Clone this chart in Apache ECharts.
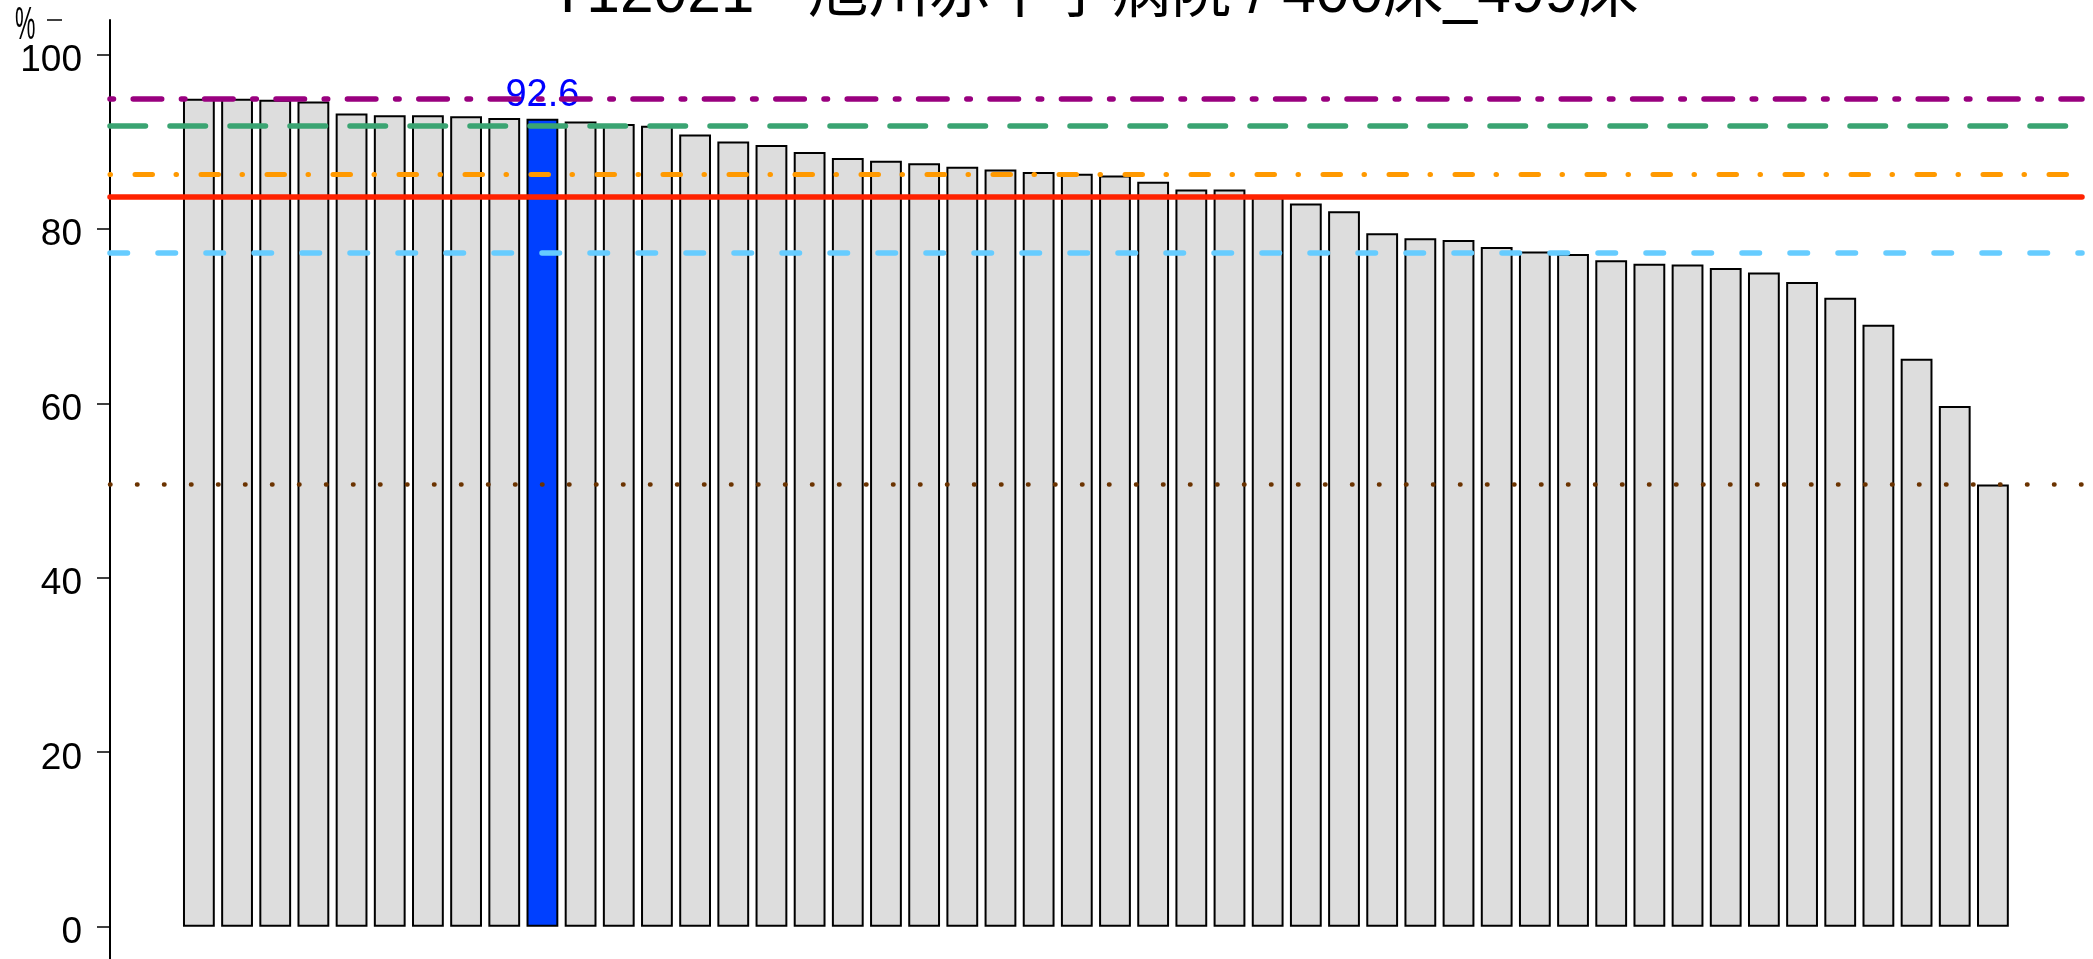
<!DOCTYPE html>
<html><head><meta charset="utf-8">
<script src="https://cdn.jsdelivr.net/npm/echarts@6/dist/echarts.min.js"></script>
<style>html,body{margin:0;padding:0;background:#fff}#c{width:2093px;height:959px}</style>
</head><body><div id="c"></div>
<script>
const titleText = 'T12021 - 旭川赤十字病院 / 400床_499床';
const categories = Array.from({length: 48}, (_, i) => 'H' + String(i + 1).padStart(2, '0'));
const values = [94.9, 94.9, 94.8, 94.6, 93.2, 93.0, 93.0, 92.9, 92.7, 92.6,
  92.3, 92.0, 91.8, 90.8, 90.0, 89.6, 88.8, 88.1, 87.8, 87.5,
  87.1, 86.8, 86.5, 86.3, 86.1, 85.4, 84.5, 84.5, 83.6, 82.9,
  82.0, 79.5, 78.9, 78.7, 77.9, 77.4, 77.1, 76.4, 76.0, 75.9,
  75.5, 75.0, 73.9, 72.1, 69.0, 65.1, 59.7, 50.7];
const highlightIndex = 9;
const yTickValues = [0, 20, 40, 60, 80, 100];
const refLines = [
  {name: 'max',  value: 94.9, color: '#99007f', width: 5.5, dash: [3.5, 19.7, 28.5, 19.7]},
  {name: 'p90',  value: 91.8, color: '#3aa472', width: 5.5, dash: [35.5, 24.5]},
  {name: 'p75',  value: 86.2, color: '#ff9900', width: 5,   dash: [0.5, 24.5, 17.5, 23.5]},
  {name: 'mean', value: 83.7, color: '#ff2200', width: 5.5, dash: 'solid'},
  {name: 'p25',  value: 77.3, color: '#66ccff', width: 5.5, dash: [17.5, 30.5]},
  {name: 'min',  value: 50.7, color: '#6b3300', width: 4.5, dash: [0.5, 26.5]}
];
const yMin = -3.70, yMax = 103.93;
const labelShift = 0.745; // tick labels sit slightly below their ticks
const font = "'Liberation Sans', Arial, 'Noto Sans CJK JP', sans-serif";

const chart = echarts.init(document.getElementById('c'), null, {renderer: 'canvas'});
const barData = values.map((v, i) => i === highlightIndex ? {
  value: v,
  itemStyle: {color: '#0040ff'},
  label: {show: true, position: 'top', distance: 4, color: '#0000ff', fontSize: 38,
    fontFamily: font, formatter: p => p.value.toFixed(1)}
} : v);

chart.setOption({
  animation: false,
  backgroundColor: '#ffffff',
  graphic: [
    {type: 'text', x: 1094, y: -5, z: 10,
      style: {text: titleText, fontSize: 60.5, fontFamily: font, fill: '#000',
        textAlign: 'center', textVerticalAlign: 'middle', align: 'center', verticalAlign: 'middle'}},
    {type: 'text', x: 15, y: 3.7, scaleX: 0.5,
      style: {text: '%', fontSize: 46, fontFamily: font, fill: '#000'}},
    {type: 'line', shape: {x1: 47, y1: 20, x2: 62, y2: 20}, style: {stroke: '#000', lineWidth: 1.5}}
  ],
  grid: [
    {left: 179.8, right: 81, top: 20, bottom: 0},
    {left: 110, right: 11, top: 20, bottom: 0}
  ],
  xAxis: [
    {type: 'category', gridIndex: 0, data: categories, show: false, boundaryGap: true},
    {type: 'value', gridIndex: 1, min: 0, max: 1, show: false}
  ],
  yAxis: [
    {type: 'value', gridIndex: 0, min: yMin, max: yMax, show: false},
    {type: 'value', gridIndex: 1, position: 'left', offset: 0, min: yMin, max: yMax,
      axisLine: {show: true, lineStyle: {color: '#000', width: 2}},
      axisTick: {show: true, length: 13, lineStyle: {color: '#000', width: 1.5}, customValues: yTickValues},
      axisLabel: {show: false},
      splitLine: {show: false}
    },
    {type: 'value', gridIndex: 1, position: 'left', offset: 0, min: yMin + labelShift, max: yMax + labelShift,
      axisLine: {show: false}, axisTick: {show: false}, splitLine: {show: false},
      axisLabel: {show: true, margin: 28, fontSize: 37, color: '#000', fontFamily: font,
        customValues: yTickValues}
    }
  ],
  series: [
    {type: 'bar', xAxisIndex: 0, yAxisIndex: 0, data: barData, barCategoryGap: '16.6667%', z: 2,
      itemStyle: {color: '#dddddd', borderColor: '#000', borderWidth: 2}},
    ...refLines.map(r => ({
      type: 'line', name: r.name, xAxisIndex: 1, yAxisIndex: 1, data: [], z: 3,
      markLine: {silent: true, symbol: ['none', 'none'], label: {show: false},
        lineStyle: {color: r.color, width: r.width, type: r.dash, cap: 'round'},
        data: [{yAxis: r.value}]}
    }))
  ]
});
</script></body></html>
